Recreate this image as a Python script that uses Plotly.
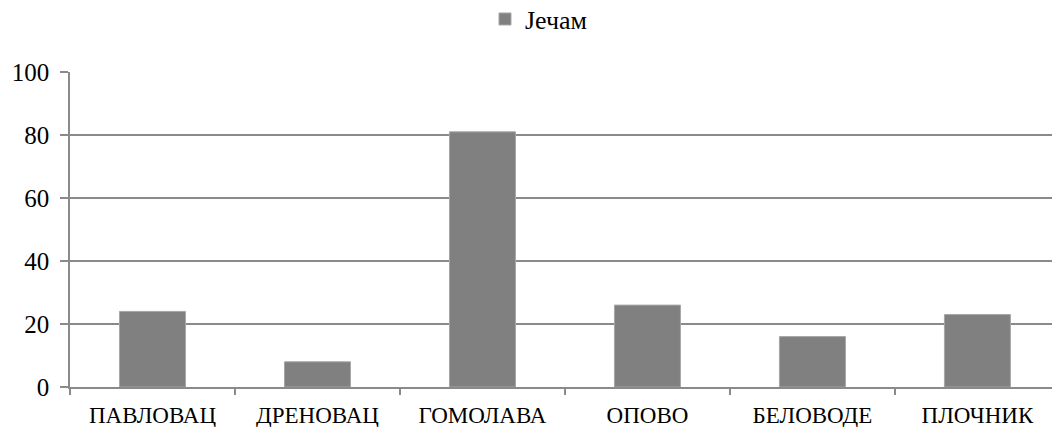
import plotly.graph_objects as go

# Barley (Јечам) counts per site
sites = ["ПАВЛОВАЦ", "ДРЕНОВАЦ", "ГОМОЛАВА", "ОПОВО", "БЕЛОВОДЕ", "ПЛОЧНИК"]
barley = [24, 8, 81, 26, 16, 23]
y_ticks = [0, 20, 40, 60, 80, 100]

GREY = "#808080"
LINE = "#8a8a8a"
FONT = "Liberation Serif"

fig = go.Figure(
    go.Bar(
        x=sites,
        y=barley,
        name="Јечам",
        width=0.4,
        marker=dict(color=GREY, line=dict(color="#a6a6a6", width=1)),
        showlegend=True,
    )
)

fig.update_layout(
    width=1052,
    height=427,
    margin=dict(l=70, r=0, t=72, b=40, autoexpand=False),
    paper_bgcolor="white",
    plot_bgcolor="white",
    font=dict(family=FONT, color="black"),
    legend=dict(
        orientation="h",
        x=0.4226,
        xanchor="left",
        y=1.168,
        yanchor="middle",
        font=dict(family=FONT, size=26, color="black"),
        itemwidth=30,
        bgcolor="rgba(0,0,0,0)",
    ),
    xaxis=dict(
        type="category",
        range=[-0.5, 5.452],
        showline=True,
        linecolor=LINE,
        linewidth=1.5,
        ticks="outside",
        tickson="boundaries",
        ticklen=6,
        tickwidth=1.5,
        tickcolor=LINE,
        showgrid=False,
        ticklabelstandoff=7,
        tickfont=dict(family=FONT, size=23, color="black"),
    ),
    yaxis=dict(
        range=[0, 100],
        tickvals=y_ticks,
        showline=True,
        linecolor=LINE,
        linewidth=1.5,
        ticks="outside",
        ticklen=8,
        tickwidth=1.5,
        tickcolor=LINE,
        showgrid=True,
        gridcolor=LINE,
        gridwidth=1.5,
        zeroline=False,
        ticklabelstandoff=6,
        tickfont=dict(family=FONT, size=25, color="black"),
    ),
)

fig.write_html("out.html")
